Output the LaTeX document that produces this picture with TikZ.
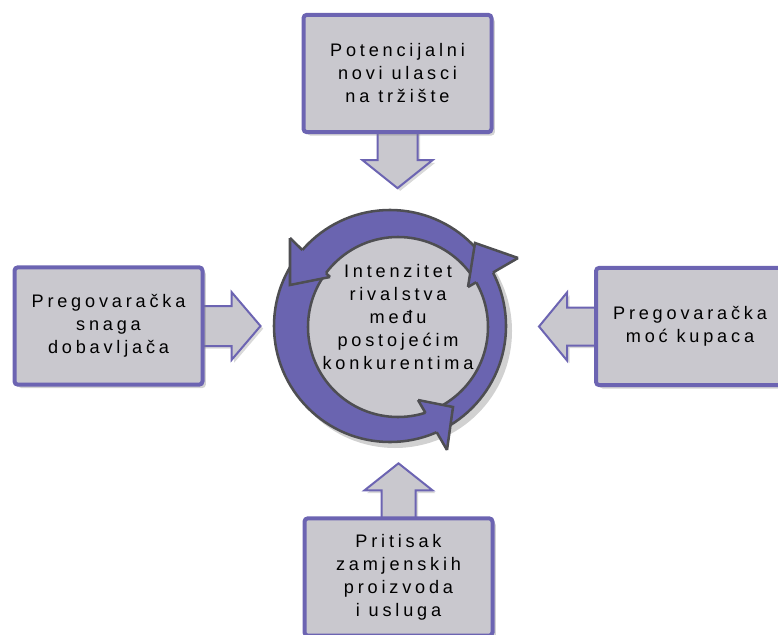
\documentclass[tikz,border=0pt]{standalone}
\usepackage{fontspec}
\setmainfont{Liberation Sans}[LetterSpace=21]
\usetikzlibrary{shadows,backgrounds}

\definecolor{boxgrey}{RGB}{201,200,206}
\definecolor{boxpurple}{RGB}{108,100,178}
\definecolor{ringpurple}{RGB}{106,100,176}
\definecolor{ringdark}{RGB}{78,78,82}

\tikzset{
  forcebox/.style={draw=boxpurple, line width=3pt, fill=boxgrey, rounded corners=2.5pt,
    minimum width=141pt, minimum height=88pt, align=center, inner sep=0pt,
    drop shadow={shadow xshift=2.5pt, shadow yshift=-2.5pt, opacity=0.35}},
  blockarrow/.style={draw=boxpurple, line width=1.5pt, fill=boxgrey,
    drop shadow={shadow xshift=2pt, shadow yshift=-2pt, opacity=0.3}},
  ringline/.style={draw=ringdark, line width=1.9pt},
}

\begin{document}
\begin{tikzpicture}[x=0.75pt,y=0.75pt,yscale=-1,font=\fontsize{13.6}{17.25}\selectfont]
\useasboundingbox (0,0) rectangle (778,635);
\clip (0,0) rectangle (778,635);

% Five forces
\node[forcebox] (entrants) at (397.5,73.5) {Potencijalni\\novi ulasci\\na tržište};
\node[forcebox] (suppliers) at (108.5,326) {Pregovaračka\\snaga\\dobavljača};
\node[forcebox] (buyers) at (690,326.5) {Pregovaračka\\moć kupaca};
\node[forcebox] (substitutes) at (398.5,577) {Pritisak\\zamjenskih\\proizvoda\\i usluga};

% Block arrows
\begin{scope}[on background layer]
\draw[blockarrow] (entrants.south) ++(-20,-3) -- ++(0,29) -- ++(-15,0) -- ++(35,28) -- ++(35,-28) -- ++(-15,0) -- ++(0,-29) -- cycle;
\draw[blockarrow] (suppliers.east) ++(-3,-20) -- ++(30,0) -- ++(0,-14) -- ++(29,34) -- ++(-29,34) -- ++(0,-14) -- ++(-30,0) -- cycle;
\draw[blockarrow] (buyers.west) ++(3,-19) -- ++(-30,0) -- ++(0,-15) -- ++(-28,34) -- ++(28,34) -- ++(0,-15) -- ++(30,0) -- cycle;
\draw[blockarrow] (substitutes.north) ++(-17,3) -- ++(0,-29) -- ++(-17,0) -- ++(34,-27) -- ++(34,27) -- ++(-17,0) -- ++(0,29) -- cycle;
\end{scope}

% Rivalry ring
\fill[black, opacity=0.18] (395,331) circle [radius=117];
\fill[ringpurple, even odd rule] (390,326) circle [radius=116] (398,327) circle [radius=90];
\draw[ringline] (390,326) circle [radius=116];
\node[circle, fill=boxgrey, ringline, minimum size=135pt, inner sep=0pt] (rival) at (398,327) {};
\node[align=center] (rivaltext) at (398,317) {Intenzitet\\rivalstva\\među\\postojećim\\konkurentima};

% Arrow heads on the ring
\coordinate (ul-out) at (290,238);
\coordinate (ul-tip) at (290,285);
\coordinate (ul-in) at (330,277);
\coordinate (r-out) at (518,258);
\coordinate (r-tip) at (475,243);
\coordinate (r-in) at (468,287);
\coordinate (b-out) at (447,450);
\coordinate (b-tip) at (453,407);
\coordinate (b-in) at (418,400);
\foreach \h in {ul,r,b} {
  \fill[ringpurple] (\h-in) -- (\h-tip) -- (\h-out) -- cycle;
  \draw[ringline] (\h-in) -- (\h-tip) -- (\h-out);
}
\begin{scope}[even odd rule]
  \clip (0,0) rectangle (778,635) (390,326) circle [radius=116] (398,327) circle [radius=90];
  \foreach \h in {ul,r,b} \draw[ringline] (\h-in) -- (\h-out);
\end{scope}

\end{tikzpicture}
\end{document}
